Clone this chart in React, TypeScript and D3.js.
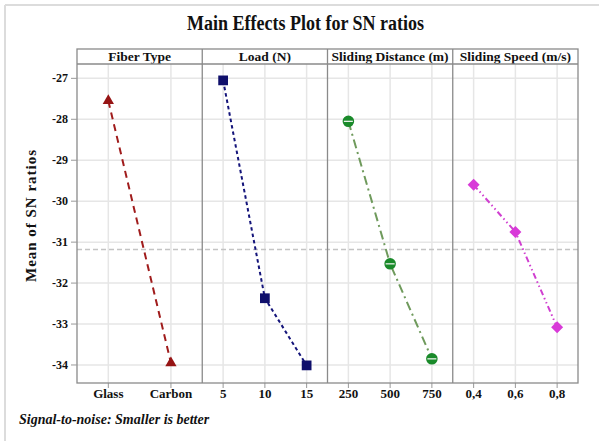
import React from "react";
import * as d3 from "d3";

// Factor levels and mean SN ratios for each level
const factorNames = ["Fiber Type", "Load (N)", "Sliding Distance (m)", "Sliding Speed (m/s)"];
const fiberLevels = ["Glass", "Carbon"];
const fiberMeans = [-27.55, -33.95];
const loadLevels = ["5", "10", "15"];
const loadMeans = [-27.05, -32.37, -34.01];
const distanceLevels = ["250", "500", "750"];
const distanceMeans = [-28.05, -31.53, -33.85];
const speedLevels = ["0,4", "0,6", "0,8"];
const speedMeans = [-29.6, -30.75, -33.08];
const yTicks = [-27, -28, -29, -30, -31, -32, -33, -34];
const overallMean = -31.18;

const W = 599;
const H = 441;
const plotLeft = 77;
const plotRight = 578;
const headerTop = 49;
const plotTop = 64;
const plotBottom = 383;
const FONT = "'Liberation Serif', 'Times New Roman', serif";

type Series = {
  name: string;
  levels: string[];
  means: number[];
  color: string;
  lineColor: string;
  dash: string;
  symbol: d3.SymbolType;
  size: number;
  rotate: number;
  stripe?: boolean;
};

const series: Series[] = [
  { name: factorNames[0], levels: fiberLevels, means: fiberMeans, color: "#961414", lineColor: "#a01c1c", dash: "7,5", symbol: d3.symbolTriangle, size: 55, rotate: 0 },
  { name: factorNames[1], levels: loadLevels, means: loadMeans, color: "#0f0f6b", lineColor: "#14147a", dash: "3.5,3", symbol: d3.symbolSquare, size: 95, rotate: 0 },
  { name: factorNames[2], levels: distanceLevels, means: distanceMeans, color: "#1a8a2a", lineColor: "#6f9a5c", dash: "9,4,2,4", symbol: d3.symbolCircle, size: 105, rotate: 0, stripe: true },
  { name: factorNames[3], levels: speedLevels, means: speedMeans, color: "#d83ad8", lineColor: "#d03fd0", dash: "6,3,1.5,3,1.5,3", symbol: d3.symbolSquare, size: 72, rotate: 45 },
];

export default function App() {
  const panel = d3.scaleBand<string>().domain(factorNames).range([plotLeft, plotRight]).paddingInner(0).paddingOuter(0);
  const y = d3.scaleLinear().domain([-34.44, -26.65]).range([plotBottom, plotTop]);
  const bw = panel.bandwidth();
  const xScale = (s: Series) => {
    const x0 = panel(s.name)!;
    return d3.scalePoint<string>().domain(s.levels).range([x0, x0 + bw]).padding(0.5);
  };

  return (
    <div style={{ position: "absolute", left: 0, top: 0, width: W, height: H, background: "#fff" }}>
      <svg width={W} height={H} style={{ display: "block" }} fontFamily={FONT}>
        <rect x={0} y={0} width={W} height={H} fill="#fff" />
        {/* outer frame */}
        <line x1={5} y1={5} x2={W} y2={5} stroke="#dcdcdc" strokeWidth={2} />
        <line x1={5} y1={5} x2={5} y2={H} stroke="#dcdcdc" strokeWidth={2} />

        <text x={305.5} y={29.5} textAnchor="middle" fontSize={20} fontWeight="bold" textLength={237} lengthAdjust="spacingAndGlyphs" fill="#111">
          Main Effects Plot for SN ratios
        </text>

        {/* horizontal grid */}
        {yTicks.map((t) => (
          <line key={"hg" + t} x1={plotLeft} x2={plotRight} y1={y(t)} y2={y(t)} stroke="#e6e6e6" strokeWidth={1.5} />
        ))}

        {series.map((s) => {
          const x0 = panel(s.name)!;
          const xs = xScale(s);
          return (
            <g key={s.name}>
              {s.levels.map((l) => (
                <line key={"vg" + l} x1={xs(l)} x2={xs(l)} y1={plotTop} y2={plotBottom} stroke="#e6e6e6" strokeWidth={1.5} />
              ))}
              {s.levels.map((l) => (
                <line key={"xt" + l} x1={xs(l)} x2={xs(l)} y1={plotBottom} y2={plotBottom + 5} stroke="#999" strokeWidth={1} />
              ))}
              {s.levels.map((l) => (
                <text key={"xl" + l} x={xs(l)} y={398} textAnchor="middle" fontSize={13} fontWeight="bold" fill="#111">
                  {l}
                </text>
              ))}
              <text x={x0 + bw / 2} y={60.5} textAnchor="middle" fontSize={13.5} fontWeight="bold" fill="#111">
                {s.name}
              </text>
            </g>
          );
        })}

        {/* overall mean reference line */}
        <line x1={plotLeft} x2={plotRight} y1={y(overallMean)} y2={y(overallMean)} stroke="#c4c4c4" strokeWidth={1.6} strokeDasharray="5,3" />

        {series.map((s) => {
          const xs = xScale(s);
          const line = d3
            .line<number>()
            .x((_, i) => xs(s.levels[i])!)
            .y((v) => y(v));
          const sym = d3.symbol().type(s.symbol).size(s.size)();
          return (
            <g key={"m" + s.name}>
              <path d={line(s.means)!} fill="none" stroke={s.lineColor} strokeWidth={2} strokeDasharray={s.dash} />
              {s.means.map((v, i) => {
                const cx = xs(s.levels[i])!;
                const cy = y(v);
                return (
                  <g key={i} transform={`translate(${cx},${cy}) rotate(${s.rotate})`}>
                    <path d={sym!} fill={s.color} />
                    {s.stripe && <line x1={-4.5} x2={4.5} y1={0} y2={0} stroke="#e8f2e8" strokeWidth={1.3} />}
                  </g>
                );
              })}
            </g>
          );
        })}

        {/* panel frames and header band */}
        <rect x={plotLeft} y={headerTop} width={plotRight - plotLeft} height={plotBottom - headerTop} fill="none" stroke="#8a8a8a" strokeWidth={1.3} />
        <line x1={plotLeft} x2={plotRight} y1={plotTop} y2={plotTop} stroke="#8a8a8a" strokeWidth={1.3} />
        {factorNames.slice(1).map((n) => (
          <line key={"pd" + n} x1={panel(n)} x2={panel(n)} y1={headerTop} y2={plotBottom} stroke="#8a8a8a" strokeWidth={1.3} />
        ))}

        {/* y axis */}
        {yTicks.map((t) => (
          <g key={"yt" + t}>
            <line x1={plotLeft - 6} x2={plotLeft} y1={y(t)} y2={y(t)} stroke="#999" strokeWidth={1} />
            <text x={68} y={y(t) + 4} textAnchor="end" fontSize={12} fontWeight="bold" fill="#111">
              {t}
            </text>
          </g>
        ))}
        <text
          transform={`translate(35.5,216) rotate(-90)`}
          textAnchor="middle"
          fontSize={15}
          fontWeight="bold"
          textLength={132}
          lengthAdjust="spacing"
          fill="#111"
        >
          Mean of SN ratios
        </text>

        <text x={19} y={424} fontSize={14} fontWeight="bold" fontStyle="italic" fill="#111">
          Signal-to-noise: Smaller is better
        </text>
      </svg>
    </div>
  );
}
